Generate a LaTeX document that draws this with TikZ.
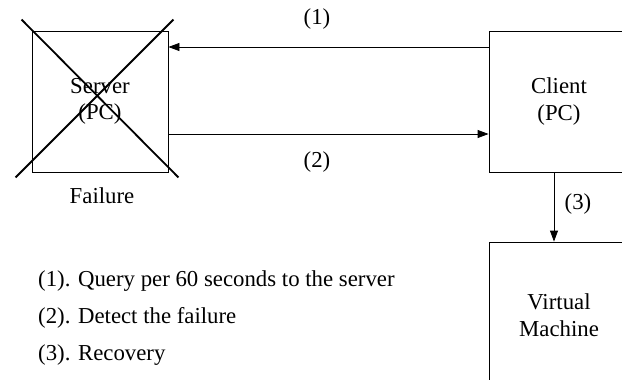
\documentclass[tikz,border=0pt]{standalone}
\usepackage{fontspec}
\setmainfont{Liberation Serif}
\usepackage{tikz}
\usetikzlibrary{
	arrows.meta,
	calc,
	positioning
}

\begin{document}
\begin{tikzpicture}[x=1pt, y=-1pt,
		every node/.style={font=\fontsize{22.8}{26.5}\selectfont},
		box/.style={draw, thick, rectangle, align=center, inner sep=0pt},
		link/.style={-{Triangle[length=11pt, width=8pt]}, thick},
		cross/.style={line width=1.8pt}]
		\clip (0,0) rectangle (622,380);
		
		\node[box, minimum width=136pt, minimum height=141pt] (server) at (100,101.5) {Server\\(PC)};
		\node[box, minimum width=140pt, minimum height=141pt] (client) at (559,101.5) {Client\\(PC)};
		\node[box, minimum width=140pt, minimum height=146pt] (vm) at (559,315) {Virtual\\Machine};
		
		% server is down
		\draw[cross] ([shift={(-10pt,11pt)}]server.north west) -- ([shift={(10pt,-5pt)}]server.south east);
		\draw[cross] ([shift={(5pt,11pt)}]server.north east) -- ([shift={(-16pt,-5pt)}]server.south west);
		\node (fail) at (102,196) {Failure};
		
		\draw[link] ([yshift=54.5pt]client.west) -- ([yshift=54.5pt]server.east);
		\draw[link] ([yshift=-32.5pt]server.east) -- ([yshift=-32.5pt]client.west);
		\draw[link] ([xshift=-5pt]client.south) -- ([xshift=-5pt]vm.north);
		
		\node (l1) at (317,19) {(1)};
		\node (l2) at (317,162) {(2)};
		\node (l3) at (578,204) {(3)};
		
		\node[anchor=west, inner sep=0pt] (s1) at (38,281) {(1). Query per 60 seconds to the server};
		\node[anchor=west, inner sep=0pt] (s2) at (38,317.5) {(2). Detect the failure};
		\node[anchor=west, inner sep=0pt] (s3) at (38,355.5) {(3). Recovery};
	\end{tikzpicture}
\end{document}
